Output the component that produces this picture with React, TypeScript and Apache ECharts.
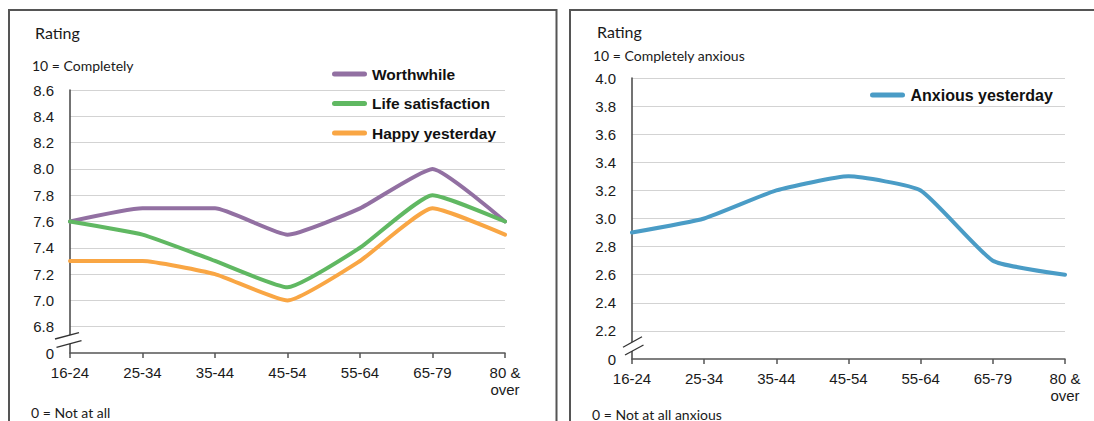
import React, { useEffect, useRef } from 'react';
import * as echarts from 'echarts';

const ageGroups = ['16-24', '25-34', '35-44', '45-54', '55-64', '65-79', '80 & over'];
const worthwhile = [7.6, 7.7, 7.7, 7.5, 7.7, 8.0, 7.6];
const lifeSatisfaction = [7.6, 7.5, 7.3, 7.1, 7.4, 7.8, 7.6];
const happyYesterday = [7.3, 7.3, 7.2, 7.0, 7.3, 7.7, 7.5];
const anxiousYesterday = [2.9, 3.0, 3.2, 3.3, 3.2, 2.7, 2.6];

const leftMin = 6.6;
const leftMax = 8.6;
const rightMin = 2.0;
const rightMax = 4.0;
const tickStep = 0.2;
const brokenAxisLabel = '0';

const colors = {
  worthwhile: '#9270A2',
  life: '#60B862',
  happy: '#F9A644',
  anxious: '#4A9CC6',
};

const ARIAL = '"Liberation Sans", Arial, sans-serif';
const CALIBRI = 'Lato, "Liberation Sans", sans-serif';
const TEXT = '#1a1a1a';

function yFormatter(min: number) {
  return (v: number) => (Math.abs(v - min) < 1e-6 ? brokenAxisLabel : v.toFixed(1));
}

function makeXAxis(gridIndex: number) {
  return {
    type: 'category',
    gridIndex,
    data: ageGroups,
    boundaryGap: false,
    axisLine: { show: true, lineStyle: { color: '#555', width: 1.5 } },
    axisTick: { show: true, inside: false, length: 5, alignWithLabel: true, lineStyle: { color: '#555', width: 1.5 } },
    axisLabel: {
      interval: 0,
      margin: 11,
      fontFamily: ARIAL,
      fontSize: 15,
      lineHeight: 17,
      color: TEXT,
      formatter: (v: string) => v.replace('& ', '&\n'),
    },
    splitLine: { show: false },
  };
}

function makeYAxis(gridIndex: number, min: number, max: number) {
  return {
    type: 'value',
    gridIndex,
    min,
    max,
    interval: tickStep,
    axisLine: { show: true, lineStyle: { color: '#444', width: 1.5 } },
    axisTick: { show: false },
    axisLabel: {
      margin: 16,
      fontFamily: ARIAL,
      fontSize: 15,
      color: TEXT,
      formatter: yFormatter(min),
    },
    splitLine: {
      show: true,
      lineStyle: { color: '#d3d3d3', width: 1 },
      showMinLine: false,
    },
  };
}

function lineSeries(name: string, data: number[], color: string, idx: number) {
  return {
    name,
    type: 'line',
    data,
    xAxisIndex: idx,
    yAxisIndex: idx,
    symbol: 'none',
    showSymbol: false,
    smooth: 0.15,
    lineStyle: { color, width: 4, cap: 'round', join: 'round' },
    itemStyle: { color },
    z: 3,
  };
}

function txt(text: string, x: number, y: number, size: number) {
  return {
    type: 'text',
    x,
    y,
    z: 50,
    style: {
      text,
      fill: TEXT,
      font: `${size}px ${CALIBRI}`,
      align: 'left',
      verticalAlign: 'middle',
      textAlign: 'left',
      textVerticalAlign: 'middle',
    },
  };
}

function breakMark(a1: number[], a2: number[], b1: number[], b2: number[]) {
  return {
    type: 'group',
    z: 60,
    children: [
      {
        type: 'polygon',
        z: 60,
        shape: { points: [a1, a2, b2, b1] },
        style: { fill: '#fff', stroke: null },
      },
      {
        type: 'line',
        z: 61,
        shape: { x1: a1[0], y1: a1[1], x2: a2[0], y2: a2[1] },
        style: { stroke: '#333', lineWidth: 1.3 },
      },
      {
        type: 'line',
        z: 61,
        shape: { x1: b1[0], y1: b1[1], x2: b2[0], y2: b2[1] },
        style: { stroke: '#333', lineWidth: 1.3 },
      },
    ],
  };
}

const legendIcon = 'path://M2.5,0 L32.5,0 A2.5,2.5 0 0 1 32.5,5 L2.5,5 A2.5,2.5 0 0 1 2.5,0 Z';

export default function App() {
  const ref = useRef<HTMLDivElement>(null);

  useEffect(() => {
    if (!ref.current) return;
    const chart = echarts.init(ref.current, null, { renderer: 'svg' });
    const option: any = {
      animation: false,
      backgroundColor: '#fff',
      grid: [
        { left: 70, top: 90, width: 435, height: 263, containLabel: false },
        { left: 632, top: 78, width: 433, height: 281, containLabel: false },
      ],
      xAxis: [makeXAxis(0), makeXAxis(1)],
      yAxis: [makeYAxis(0, leftMin, leftMax), makeYAxis(1, rightMin, rightMax)],
      legend: [
        {
          data: ['Worthwhile', 'Life satisfaction', 'Happy yesterday'],
          orient: 'vertical',
          left: 332,
          top: 66,
          padding: 0,
          icon: legendIcon,
          itemWidth: 35,
          itemHeight: 5,
          itemGap: 13.5,
          textStyle: { fontFamily: ARIAL, fontWeight: 'bold', fontSize: 15.5, lineHeight: 16, color: '#111' },
        },
        {
          data: ['Anxious yesterday'],
          orient: 'vertical',
          left: 870,
          top: 87,
          padding: 0,
          icon: legendIcon,
          itemWidth: 36,
          itemHeight: 5,
          textStyle: { fontFamily: ARIAL, fontWeight: 'bold', fontSize: 16, lineHeight: 16, color: '#111' },
        },
      ],
      series: [
        lineSeries('Worthwhile', worthwhile, colors.worthwhile, 0),
        lineSeries('Life satisfaction', lifeSatisfaction, colors.life, 0),
        lineSeries('Happy yesterday', happyYesterday, colors.happy, 0),
        lineSeries('Anxious yesterday', anxiousYesterday, colors.anxious, 1),
      ],
      graphic: [
        {
          type: 'rect',
          z: 40,
          shape: { x: 9, y: 10, width: 547.5, height: 440 },
          style: { fill: null, stroke: '#555', lineWidth: 2 },
        },
        {
          type: 'rect',
          z: 40,
          shape: { x: 570, y: 10, width: 540, height: 440 },
          style: { fill: null, stroke: '#555', lineWidth: 2 },
        },
        txt('Rating', 35, 32, 16),
        txt('10 = Completely', 32, 65, 14),
        txt('0 = Not at all', 31, 412, 14),
        txt('Rating', 597, 31, 16),
        txt('10 = Completely anxious', 593, 55, 14),
        txt('0 = Not at all anxious', 592, 414, 14),
        breakMark([55, 339], [79, 332.7], [56.5, 347.3], [81.5, 340.7]),
        breakMark([623, 347.3], [642, 336.7], [625, 355], [643.5, 345]),
      ],
    };
    chart.setOption(option);
    return () => chart.dispose();
  }, []);

  return (
    <div
      ref={ref}
      style={{ position: 'absolute', left: 0, top: 0, width: 1094, height: 421, background: '#fff' }}
    />
  );
}
